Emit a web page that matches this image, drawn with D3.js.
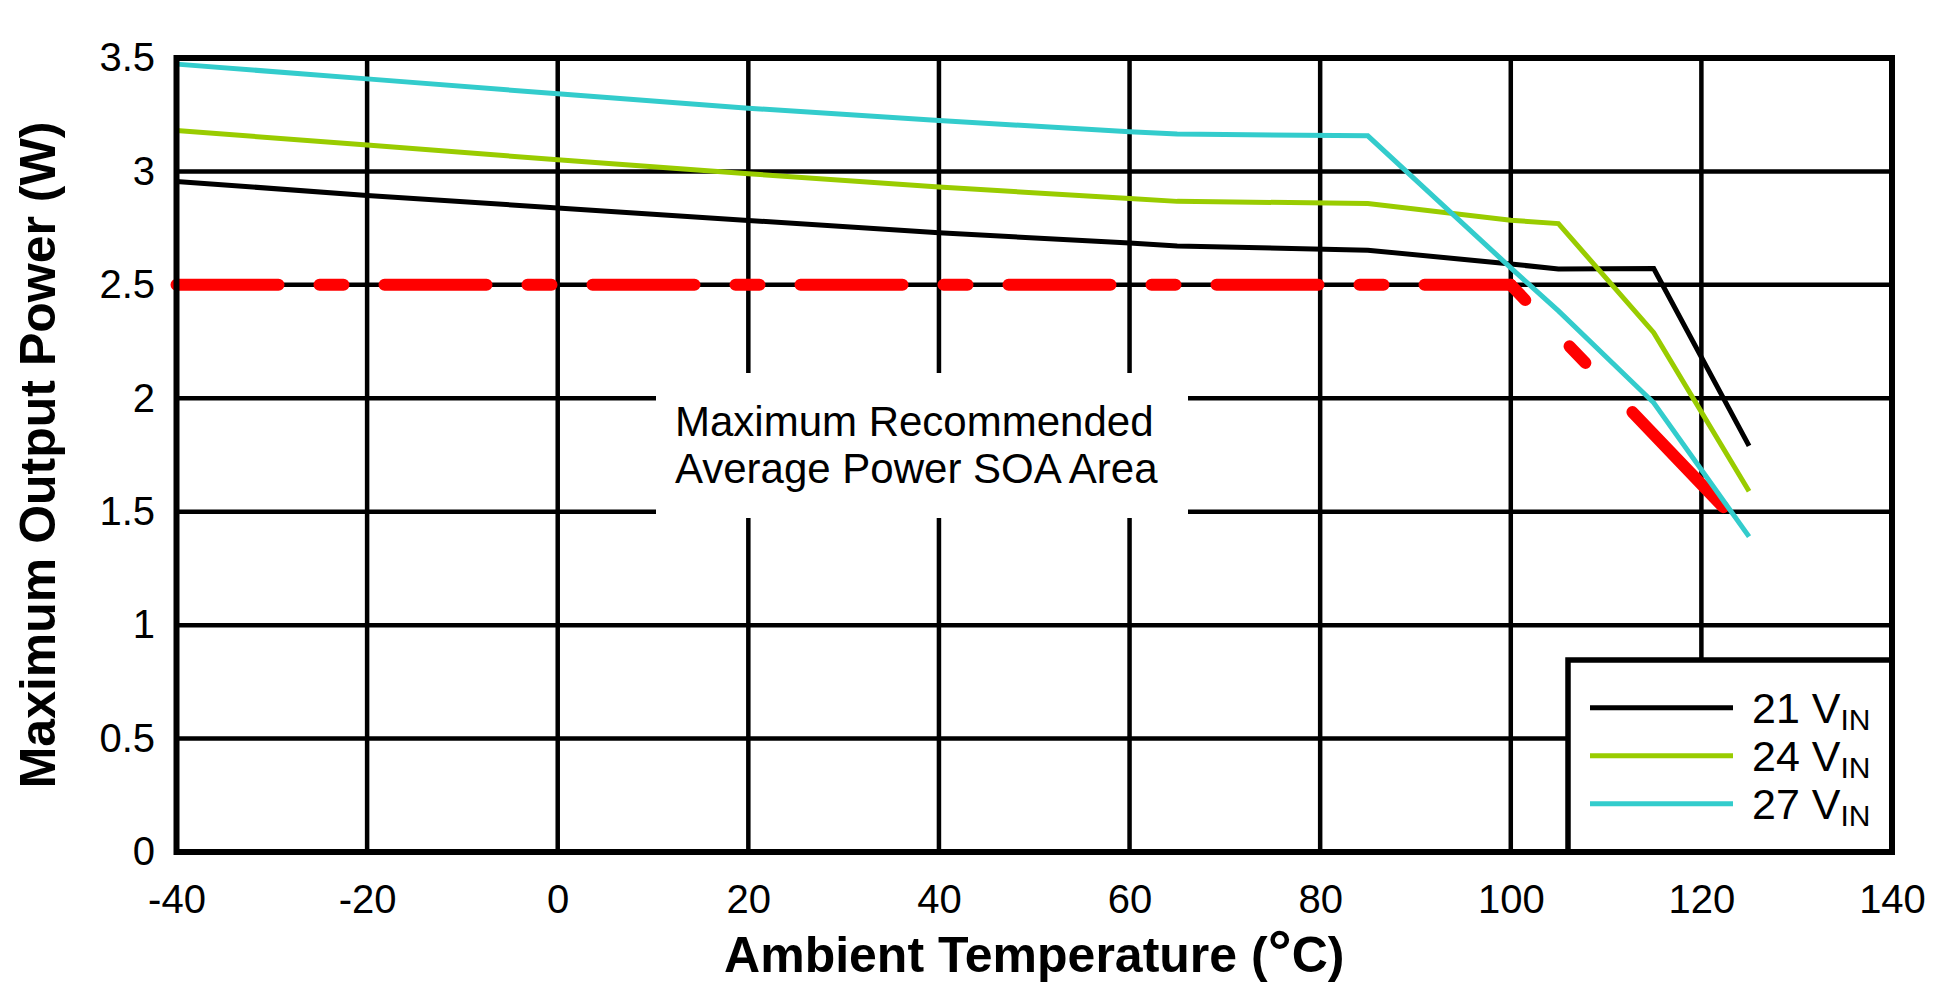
<!DOCTYPE html>
<html>
<head>
<meta charset="utf-8">
<script src="https://cdn.jsdelivr.net/npm/d3@7/dist/d3.min.js"></script>
<style>
  html, body { margin: 0; padding: 0; background: #fff; }
  svg { display: block; }
  text { font-family: "Liberation Sans", Arial, sans-serif; fill: #000; }
</style>
</head>
<body>
<svg id="chart" width="1956" height="995"></svg>
<script>
// ---- data ----
const temps = [-40, -20, 0, 20, 40, 60, 65, 85, 100, 105, 115, 125];
const vin21 = [2.956, 2.894, 2.839, 2.784, 2.730, 2.684, 2.671, 2.653, 2.592, 2.570, 2.572, 1.790];
const vin24 = [3.180, 3.117, 3.051, 2.990, 2.931, 2.881, 2.868, 2.859, 2.785, 2.770, 2.289, 1.590];
const vin27 = [3.473, 3.408, 3.342, 3.279, 3.224, 3.175, 3.165, 3.157, 2.575, 2.385, 1.980, 1.390];
const soaFlatT = [-40, 100];
const soaFlatP = [2.5, 2.5];
const soaDropT = [100, 122.3];
const soaDropP = [2.5, 1.52];
const seriesNames = ["21", "24", "27"];
const xTicks = [-40, -20, 0, 20, 40, 60, 80, 100, 120, 140];
const yTicks = [0, 0.5, 1, 1.5, 2, 2.5, 3, 3.5];
const annotationLines = ["Maximum Recommended", "Average Power SOA Area"];

// ---- layout ----
const L = 176.5, R = 1892, T = 58, B = 852;
const colors = ["#000000", "#99CC00", "#33CCCC"];
const svg = d3.select("#chart");

const x = d3.scaleLinear().domain([-40, 140]).range([L, R]);
const y = d3.scaleLinear().domain([0, 3.5]).range([B, T]);

// gridlines
const grid = svg.append("g");
grid.selectAll("line.v").data(xTicks).join("line")
  .attr("x1", d => x(d)).attr("x2", d => x(d))
  .attr("y1", T).attr("y2", B)
  .attr("stroke", "#000").attr("stroke-width", 4.5);
grid.selectAll("line.h").data(yTicks).join("line")
  .attr("x1", L).attr("x2", R)
  .attr("y1", d => y(d)).attr("y2", d => y(d))
  .attr("stroke", "#000").attr("stroke-width", 4.5);

// axes labels via d3 axes
const xAxis = svg.append("g").attr("transform", `translate(0,${B})`)
  .call(d3.axisBottom(x).tickValues(xTicks).tickSize(0).tickPadding(32.6).tickFormat(d => String(d)));
const yAxis = svg.append("g").attr("transform", `translate(${L},0)`)
  .call(d3.axisLeft(y).tickValues(yTicks).tickSize(0).tickPadding(21.5).tickFormat(d => String(d)));
[xAxis, yAxis].forEach(a => {
  a.select(".domain").remove();
  a.selectAll("text").style("font-family", '"Liberation Sans", Arial, sans-serif')
    .style("font-size", "40px").attr("fill", "#000");
});

// SOA red dashed line
const line = d3.line().x(d => x(d[0])).y(d => y(d[1]));
svg.append("path")
  .datum(soaFlatT.map((t, i) => [t, soaFlatP[i]]))
  .attr("d", line).attr("fill", "none").attr("stroke", "#FF0000")
  .attr("stroke-width", 12).attr("stroke-linecap", "round")
  .attr("stroke-dasharray", "102,41,24,41");
svg.append("path")
  .datum(soaDropT.map((t, i) => [t, soaDropP[i]]))
  .attr("d", line).attr("fill", "none").attr("stroke", "#FF0000")
  .attr("stroke-width", 12).attr("stroke-linecap", "round")
  .attr("stroke-dasharray", "21,64,23,68,400");

// data series
const series = [vin21, vin24, vin27];
series.forEach((vals, si) => {
  svg.append("path")
    .datum(temps.map((t, i) => [t, vals[i]]))
    .attr("d", line).attr("fill", "none")
    .attr("stroke", colors[si]).attr("stroke-width", 5)
    .attr("stroke-linejoin", "miter");
});

// annotation box
svg.append("rect").attr("x", 656).attr("y", 373).attr("width", 532).attr("height", 145).attr("fill", "#fff");
svg.append("text").attr("x", 675).attr("y", 436)
  .style("font-size", "42px").text(annotationLines[0]);
svg.append("text").attr("x", 675).attr("y", 483)
  .style("font-size", "42px").text(annotationLines[1]);

// legend
const lg = svg.append("g");
lg.append("rect").attr("x", 1568).attr("y", 660).attr("width", R - 1568).attr("height", B - 660)
  .attr("fill", "#fff").attr("stroke", "#000").attr("stroke-width", 5.5);
seriesNames.forEach((n, i) => {
  const ly = 707.7 + i * 48;
  lg.append("line").attr("x1", 1590).attr("x2", 1733).attr("y1", ly).attr("y2", ly)
    .attr("stroke", colors[i]).attr("stroke-width", 5);
  const t = lg.append("text").attr("x", 1752).attr("y", ly + 15).style("font-size", "43px");
  t.append("tspan").text(n + " V");
  t.append("tspan").attr("dy", 7).style("font-size", "30px").text("IN");
});

// frame
svg.append("rect").attr("x", L).attr("y", T).attr("width", R - L).attr("height", B - T)
  .attr("fill", "none").attr("stroke", "#000").attr("stroke-width", 6);

// axis titles
const xt = svg.append("text").attr("x", (L + R) / 2).attr("y", 972)
  .attr("text-anchor", "middle").style("font-size", "50px").style("font-weight", "bold");
xt.append("tspan").text("Ambient Temperature (");
xt.append("tspan").style("font-size", "60px").text("°");
xt.append("tspan").text("C)");

svg.append("text").attr("transform", `translate(55,${(T + B) / 2}) rotate(-90)`)
  .attr("text-anchor", "middle").style("font-size", "50px").style("font-weight", "bold")
  .text("Maximum Output Power (W)");
</script>
</body>
</html>
